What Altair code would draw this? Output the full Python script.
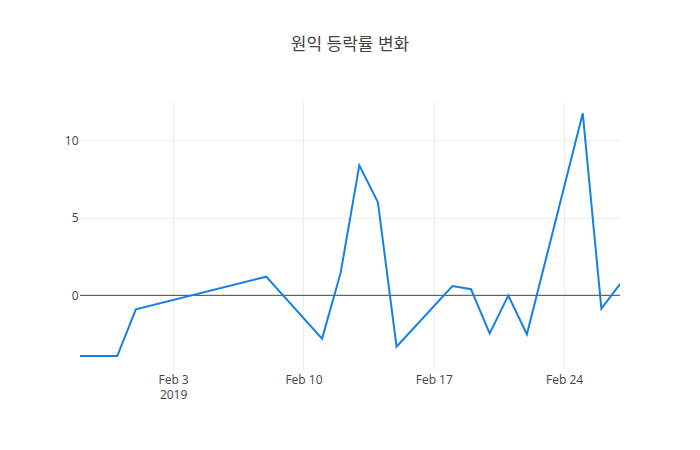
import altair as alt
import pandas as pd

# 원익 daily change (%)
dates = [
    "2019-01-29", "2019-01-31", "2019-02-01", "2019-02-08", "2019-02-11",
    "2019-02-12", "2019-02-13", "2019-02-14", "2019-02-15", "2019-02-18",
    "2019-02-19", "2019-02-20", "2019-02-21", "2019-02-22", "2019-02-25",
    "2019-02-26", "2019-02-27",
]
changes = [
    -3.91, -3.91, -0.90, 1.20, -2.79,
    1.46, 8.37, 5.99, -3.31, 0.60,
    0.39, -2.45, -0.02, -2.51, 11.72,
    -0.86, 0.73,
]
tick_dates = ["2019-02-03", "2019-02-10", "2019-02-17", "2019-02-24"]
y_ticks = [0, 5, 10]

FONT = "Open Sans, Noto Sans CJK KR, sans-serif"
Y_DOMAIN = [-4.81, 12.58]

df = pd.DataFrame({"date": dates, "change": changes})


def utc_day(s):
    y, m, d = (int(p) for p in s.split("-"))
    return alt.DateTime(year=y, month=m, date=d, utc=True)


x_enc = alt.X(
    "date:T",
    scale=alt.Scale(type="utc", domain=[utc_day(dates[0]), utc_day(dates[-1])]),
    axis=alt.Axis(
        title=None,
        values=[utc_day(t) for t in tick_dates],
        labelExpr="utcFormat(datum.value, '%b %-d') == 'Feb 3' ? ['Feb 3', '2019'] : utcFormat(datum.value, '%b %-d')",
        labelFont=FONT,
        labelFontSize=12,
        labelColor="#444",
        labelPadding=4,
        labelLineHeight=15,
        ticks=False,
        domain=False,
        grid=True,
        gridColor="#eeeeee",
        gridWidth=1,
    ),
)

y_enc = alt.Y(
    "change:Q",
    scale=alt.Scale(domain=Y_DOMAIN, nice=False, zero=False),
    axis=alt.Axis(
        title=None,
        values=y_ticks,
        labelFont=FONT,
        labelFontSize=12,
        labelColor="#444",
        labelPadding=2,
        ticks=False,
        domain=False,
        grid=True,
        gridColor="#eeeeee",
        gridWidth=1,
    ),
)

line = alt.Chart(df).mark_line(color="#1580e6", strokeWidth=2, clip=True).encode(
    x=x_enc, y=y_enc
)

zero = alt.Chart(pd.DataFrame({"z": [0]})).mark_rule(color="#444", strokeWidth=1).encode(
    y=alt.Y("z:Q", scale=alt.Scale(domain=Y_DOMAIN, nice=False, zero=False))
)

chart = alt.layer(zero, line).properties(
    width=540,
    height=270,
    autosize="none",
    padding={"left": 72, "top": 92, "right": 72, "bottom": 72},
    title=alt.Title(
        "원익 등락률 변화",
        font=FONT,
        fontSize=17,
        fontWeight="normal",
        color="#444",
        anchor="middle",
        offset=46,
    ),
).configure_view(strokeWidth=0)

chart.save("out.html", embed_options={"renderer": "svg", "actions": False})
